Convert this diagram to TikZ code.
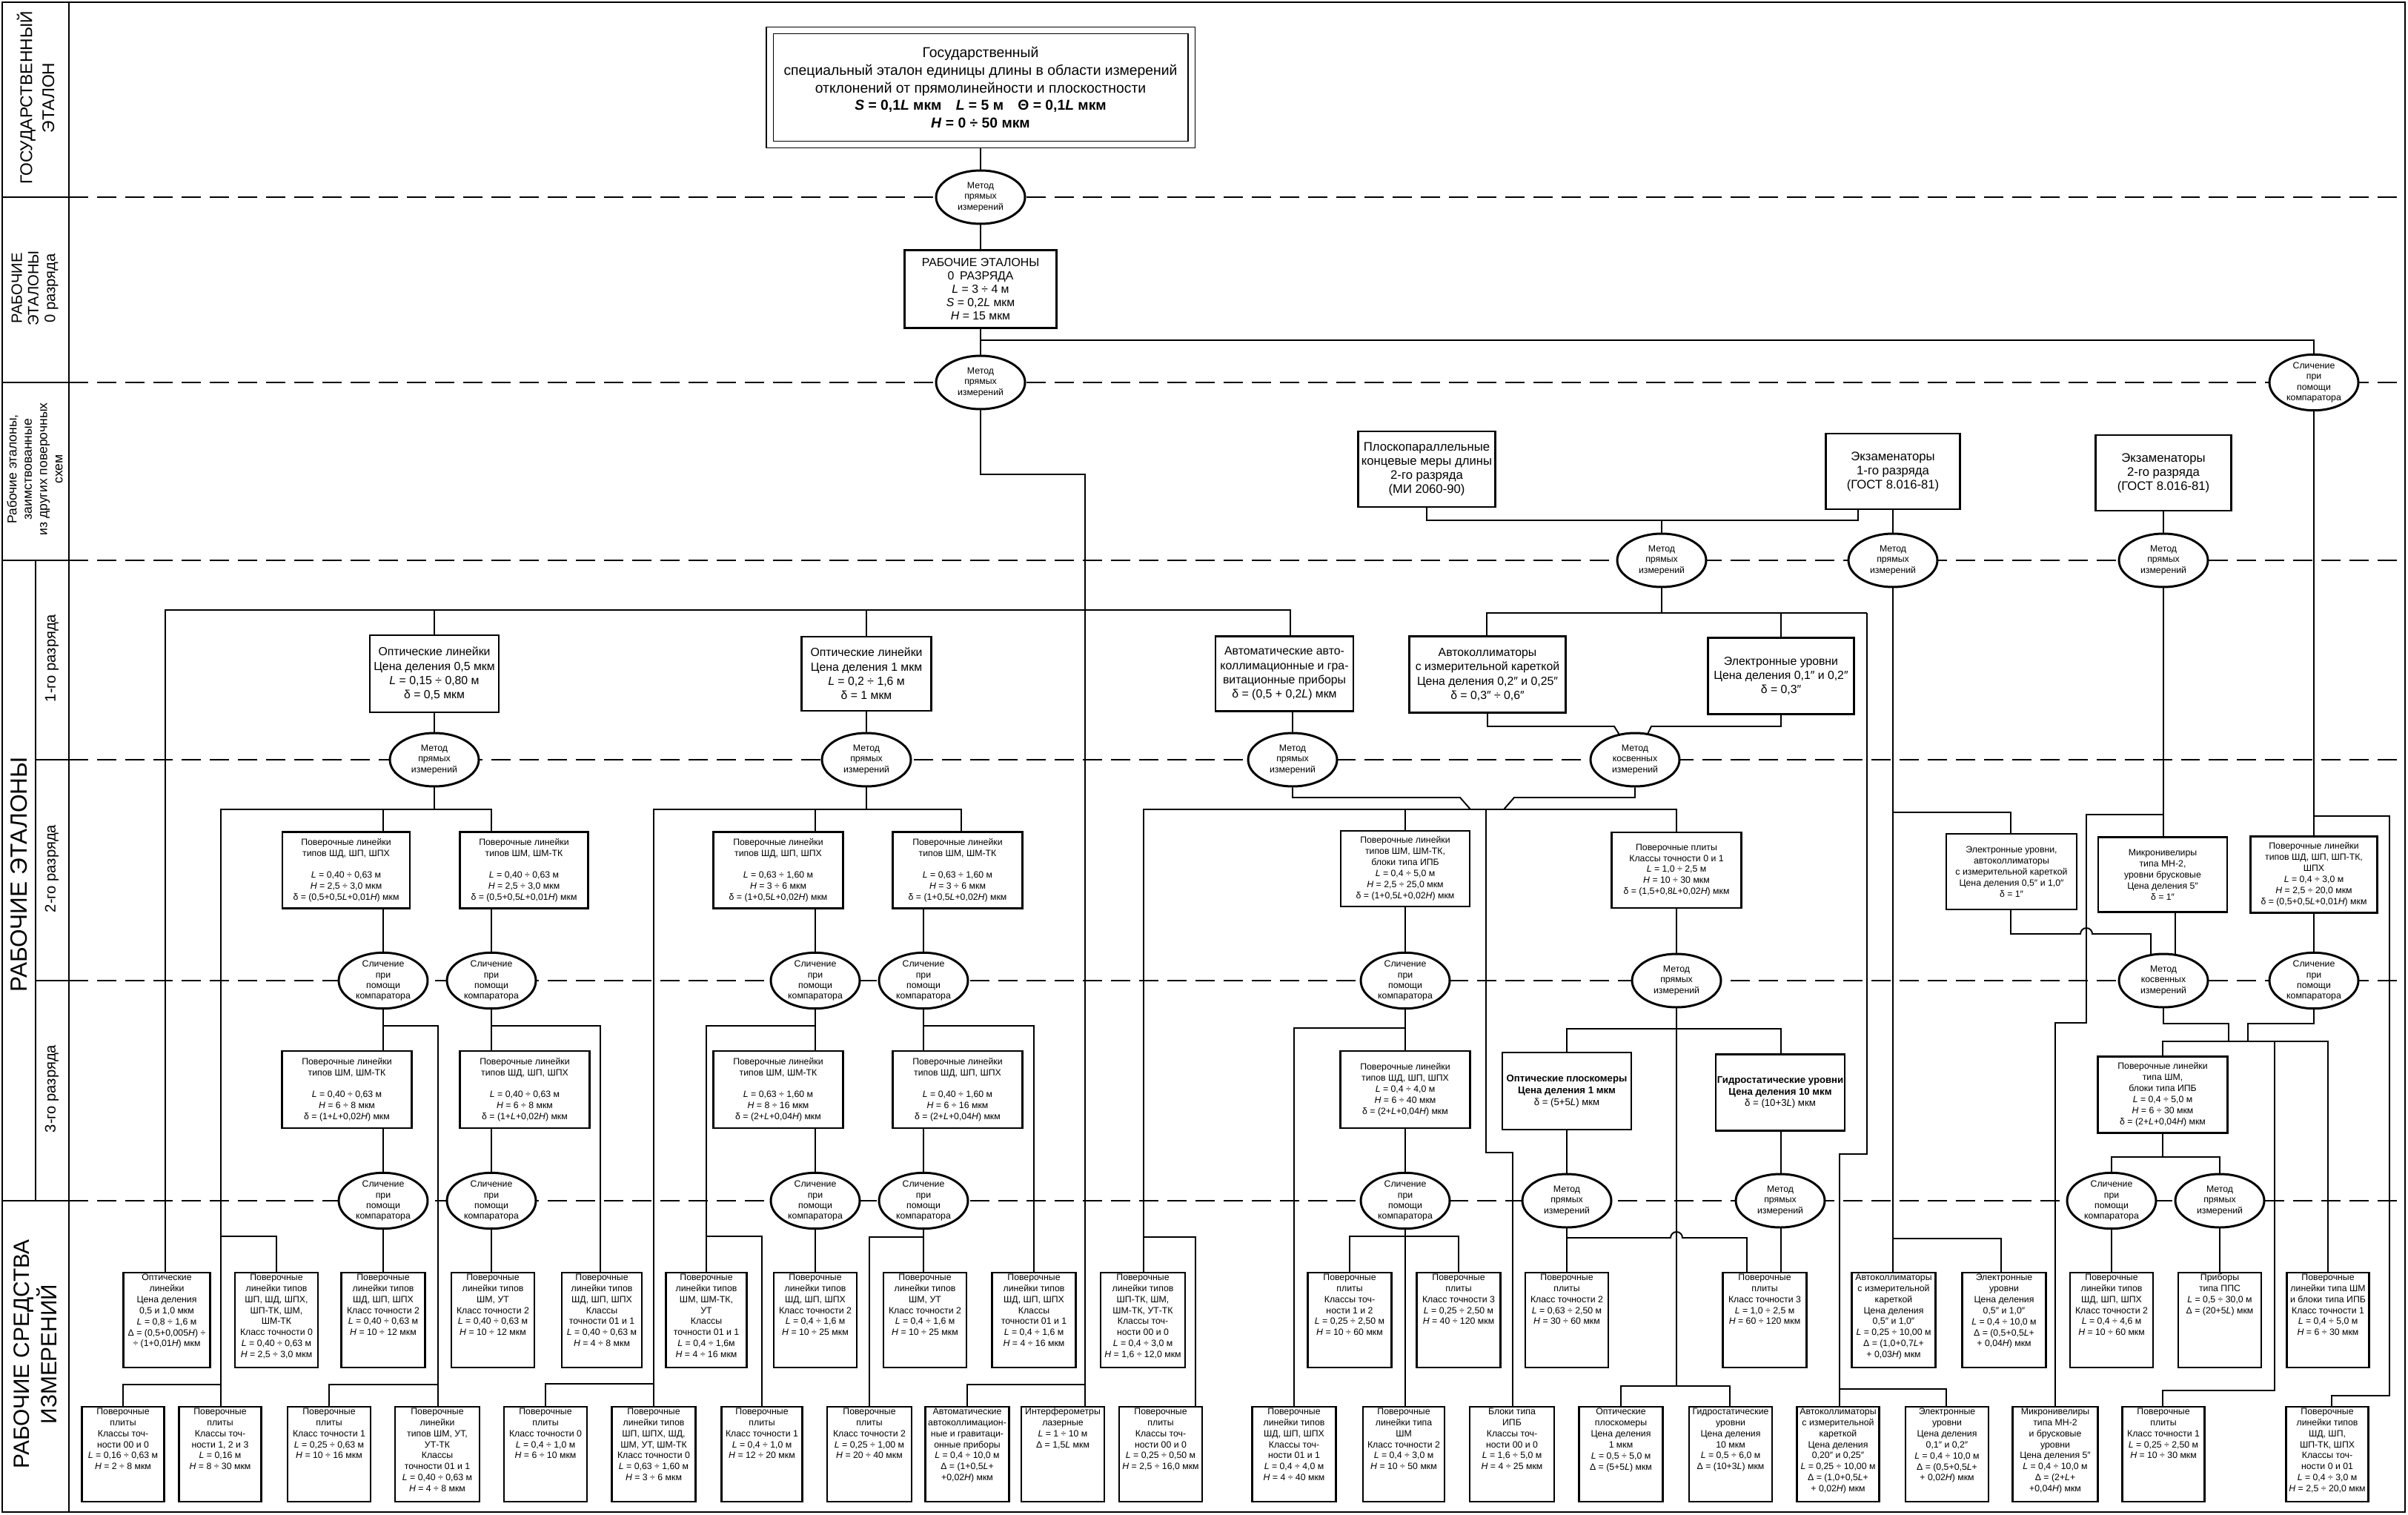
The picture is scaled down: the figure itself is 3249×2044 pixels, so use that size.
\documentclass[tikz,border=0pt]{standalone}
\usepackage{fontspec}
\setmainfont{Liberation Sans}
\usetikzlibrary{shapes.geometric,backgrounds}

\newlength\px
\setlength\px{0.02cm}
% box contents: width, height (in px of the scheme), text
\newcommand{\cbx}[3]{\parbox[c][#2\px][c]{#1\px}{\centering #3\par}}
\newcommand{\tbx}[3]{\parbox[c][#2\px][t]{#1\px}{\centering\vspace*{1pt}#3\par}}
\newcommand{\iL}{\textit{L}}
\newcommand{\iH}{\textit{H}}
\newcommand{\iS}{\textit{S}}
\newcommand{\metpr}{Метод\\прямых\\измерений}
\newcommand{\metkos}{Метод\\косвенных\\измерений}
\newcommand{\slich}{Сличение\\при\\помощи\\компаратора}

\begin{document}
\begin{tikzpicture}[x=0.02cm, y=-0.02cm,
  bx/.style={draw, line width=1.6pt, fill=white, inner sep=0pt},
  big/.style={bx, font=\fontsize{9}{11}\selectfont},
  sm/.style={bx, font=\fontsize{7}{8.5}\selectfont},
  el/.style={ellipse, draw, line width=1.7pt, fill=white, inner sep=0pt,
    minimum width=2.4cm, minimum height=1.44cm, align=center,
    font=\fontsize{7}{8}\selectfont},
  ln/.style={line width=1.1pt},
  sep/.style={line width=1.3pt, dash pattern=on 0.52cm off 0.24cm},
  lab/.style={rotate=90, align=center, inner sep=0pt}]
  \useasboundingbox (0,0) rectangle (3249,2044);

  % frame and left column
  \draw[line width=1.6pt] (3,3) rectangle (3245,2040);
  \draw[line width=1.6pt] (93,3) -- (93,2040);
  \draw[line width=1.6pt] (48,756) -- (48,1620);
  \foreach \yy in {266,516,756,1620} \draw[line width=1.6pt] (3,\yy) -- (93,\yy);
  \foreach \yy in {1025,1323} \draw[line width=1.6pt] (48,\yy) -- (93,\yy);

  \node[lab, font=\fontsize{13}{17}\selectfont] (lgos) at (48,132) {ГОСУДАРСТВЕННЫЙ\\ЭТАЛОН};
  \node[lab, font=\fontsize{11.5}{12.7}\selectfont] (lnul) at (47,389) {РАБОЧИЕ\\ЭТАЛОНЫ\\0 разряда};
  \node[lab, font=\fontsize{10}{11.8}\selectfont] (lzaim) at (47,633) {Рабочие эталоны,\\заимствованные\\из других поверочных\\схем};
  \node[lab, font=\fontsize{18}{20}\selectfont] (lre) at (26,1180) {РАБОЧИЕ ЭТАЛОНЫ};
  \node[lab, font=\fontsize{11.5}{13}\selectfont] (lr1) at (70,888) {1-го разряда};
  \node[lab, font=\fontsize{11.5}{13}\selectfont] (lr2) at (70,1172) {2-го разряда};
  \node[lab, font=\fontsize{11.5}{13}\selectfont] (lr3) at (70,1469) {3-го разряда};
  \node[lab, font=\fontsize{17}{21}\selectfont] (lrsi) at (48,1827) {РАБОЧИЕ СРЕДСТВА\\ИЗМЕРЕНИЙ};

  % state standard and rank 0
  \node[bx, double, double distance=0.16cm, line width=0.8pt, font=\fontsize{11}{13.5}\selectfont] (gos) at (1323,118)
    {\cbx{569}{154}{Государственный\\ специальный эталон единицы длины в области измерений\\ отклонений от прямолинейности и плоскостности\\ \textbf{\iS{} = 0,1\iL{} мкм\quad \iL{} = 5 м\quad Θ = 0,1\iL{} мкм}\\ \textbf{\iH{} = 0 ÷ 50 мкм}}};
  \node[el] (e1) at (1323,266) {\metpr};
  \node[bx, font=\fontsize{9}{10.3}\selectfont] (r0) at (1323,390) {\cbx{205}{105}{РАБОЧИЕ ЭТАЛОНЫ\\ 0\enspace РАЗРЯДА\\ \iL{} = 3 ÷ 4 м\\ \iS{} = 0,2\iL{} мкм\\ \iH{} = 15 мкм}};
  \node[el] (e2) at (1323,516) {\metpr};
  \node[el] (e3) at (3122,516) {\slich};

  % borrowed standards
  \node[bx, font=\fontsize{9.5}{10.8}\selectfont] (kmd) at (1925,633) {\cbx{185}{102}{Плоскопараллельные\\ концевые меры длины\\ 2-го разряда\\ (МИ 2060-90)}};
  \node[bx, font=\fontsize{9.5}{10.8}\selectfont] (ex1) at (2554,636) {\cbx{181}{102}{Экзаменаторы\\ 1-го разряда\\ (ГОСТ 8.016-81)}};
  \node[bx, font=\fontsize{9.5}{10.8}\selectfont] (ex2) at (2919,638) {\cbx{183}{102}{Экзаменаторы\\ 2-го разряда\\ (ГОСТ 8.016-81)}};
  \node[el] (e4) at (2242,756) {\metpr};
  \node[el] (e5) at (2554,756) {\metpr};
  \node[el] (e6) at (2919,756) {\metpr};

  % rank 1
  \node[big] (ol05) at (586,909) {\cbx{174}{104}{Оптические линейки\\ Цена деления 0,5 мкм\\ \iL{} = 0,15 ÷ 0,80 м\\ δ = 0,5 мкм}};
  \node[big] (ol1) at (1169,909) {\cbx{175}{100}{Оптические линейки\\ Цена деления 1 мкм\\ \iL{} = 0,2 ÷ 1,6 м\\ δ = 1 мкм}};
  \node[big] (aag) at (1733,909) {\cbx{186}{101}{Автоматические авто-\\ коллимационные и гра-\\ витационные приборы\\ δ = (0,5 + 0,2\iL) мкм}};
  \node[big] (ak1) at (2007,910) {\cbx{211}{103}{Автоколлиматоры\\ с измерительной кареткой\\ Цена деления 0,2″ и 0,25″\\ δ = 0,3″ ÷ 0,6″}};
  \node[big] (eu1) at (2403,912) {\cbx{197}{103}{Электронные уровни\\ Цена деления 0,1″ и 0,2″\\ δ = 0,3″}};
  \node[el] (ea1) at (586,1025) {\metpr};
  \node[el] (eb1) at (1169,1025) {\metpr};
  \node[el] (ec1) at (1744,1025) {\metpr};
  \node[el] (ec2) at (2206,1025) {\metkos};

  % rank 2
  \node[sm] (a2a) at (467,1174) {\cbx{172}{103}{Поверочные линейки\\ типов ШД, ШП, ШПХ\\[8pt] \iL{} = 0,40 ÷ 0,63 м\\ \iH{} = 2,5 ÷ 3,0 мкм\\ δ = (0,5+0,5\iL+0,01\iH) мкм}};
  \node[sm] (a2b) at (707,1174) {\cbx{173}{103}{Поверочные линейки\\ типов ШМ, ШМ-ТК\\[8pt] \iL{} = 0,40 ÷ 0,63 м\\ \iH{} = 2,5 ÷ 3,0 мкм\\ δ = (0,5+0,5\iL+0,01\iH) мкм}};
  \node[sm] (b2a) at (1050,1174) {\cbx{175}{103}{Поверочные линейки\\ типов ШД, ШП, ШПХ\\[8pt] \iL{} = 0,63 ÷ 1,60 м\\ \iH{} = 3 ÷ 6 мкм\\ δ = (1+0,5\iL+0,02\iH) мкм}};
  \node[sm] (b2b) at (1292,1174) {\cbx{175}{103}{Поверочные линейки\\ типов ШМ, ШМ-ТК\\[8pt] \iL{} = 0,63 ÷ 1,60 м\\ \iH{} = 3 ÷ 6 мкм\\ δ = (1+0,5\iL+0,02\iH) мкм}};
  \node[sm] (c2a) at (1896,1172) {\cbx{174}{102}{Поверочные линейки\\ типов ШМ, ШМ-ТК,\\ блоки типа ИПБ\\ \iL{} = 0,4 ÷ 5,0 м\\ \iH{} = 2,5 ÷ 25,0 мкм\\ δ = (1+0,5\iL+0,02\iH) мкм}};
  \node[sm] (c2b) at (2262,1174) {\cbx{175}{102}{Поверочные плиты\\ Классы точности 0 и 1\\ \iL{} = 1,0 ÷ 2,5 м\\ \iH{} = 10 ÷ 30 мкм\\ δ = (1,5+0,8\iL+0,02\iH) мкм}};
  \node[sm] (d2a) at (2714,1176) {\cbx{176}{102}{Электронные уровни,\\ автоколлиматоры\\ с измерительной кареткой\\ Цена деления 0,5″ и 1,0″\\ δ = 1″}};
  \node[sm] (d2b) at (2918,1180) {\cbx{174}{101}{Микронивелиры\\ типа МН-2,\\ уровни брусковые\\ Цена деления 5″\\ δ = 1″}};
  \node[sm] (d2c) at (3122,1180) {\cbx{171}{103}{Поверочные линейки\\ типов ШД, ШП, ШП-ТК,\\ ШПХ\\ \iL{} = 0,4 ÷ 3,0 м\\ \iH{} = 2,5 ÷ 20,0 мкм\\ δ = (0,5+0,5\iL+0,01\iH) мкм}};
  \node[el] (sa1) at (517,1323) {\slich};
  \node[el] (sa2) at (663,1323) {\slich};
  \node[el] (sb1) at (1100,1323) {\slich};
  \node[el] (sb2) at (1246,1323) {\slich};
  \node[el] (sc1) at (1896,1323) {\slich};
  \node[el] (ec4) at (2262,1323) {\metpr};
  \node[el] (ed1) at (2919,1323) {\metkos};
  \node[el] (sd2) at (3122,1323) {\slich};

  % rank 3
  \node[sm] (a3a) at (468,1470) {\cbx{175}{104}{Поверочные линейки\\ типов ШМ, ШМ-ТК\\[8pt] \iL{} = 0,40 ÷ 0,63 м\\ \iH{} = 6 ÷ 8 мкм\\ δ = (1+\iL+0,02\iH) мкм}};
  \node[sm] (a3b) at (708,1470) {\cbx{175}{104}{Поверочные линейки\\ типов ШД, ШП, ШПХ\\[8pt] \iL{} = 0,40 ÷ 0,63 м\\ \iH{} = 6 ÷ 8 мкм\\ δ = (1+\iL+0,02\iH) мкм}};
  \node[sm] (b3a) at (1050,1470) {\cbx{175}{104}{Поверочные линейки\\ типов ШМ, ШМ-ТК\\[8pt] \iL{} = 0,63 ÷ 1,60 м\\ \iH{} = 8 ÷ 16 мкм\\ δ = (2+\iL+0,04\iH) мкм}};
  \node[sm] (b3b) at (1292,1470) {\cbx{175}{104}{Поверочные линейки\\ типов ШД, ШП, ШПХ\\[8pt] \iL{} = 0,40 ÷ 1,60 м\\ \iH{} = 6 ÷ 16 мкм\\ δ = (2+\iL+0,04\iH) мкм}};
  \node[sm] (c3a) at (1896,1470) {\cbx{175}{104}{Поверочные линейки\\ типов ШД, ШП, ШПХ\\ \iL{} = 0,4 ÷ 4,0 м\\ \iH{} = 6 ÷ 40 мкм\\ δ = (2+\iL+0,04\iH) мкм}};
  \node[sm, font=\fontsize{7.5}{9}\selectfont] (c3b) at (2114,1472) {\cbx{174}{104}{\textbf{Оптические плоскомеры}\\ \textbf{Цена деления 1 мкм}\\ δ = (5+5\iL) мкм}};
  \node[sm, font=\fontsize{7.5}{9}\selectfont] (c3c) at (2402,1474) {\cbx{174}{103}{\textbf{Гидростатические уровни}\\ \textbf{Цена деления 10 мкм}\\ δ = (10+3\iL) мкм}};
  \node[sm] (d3) at (2918,1477) {\cbx{175}{103}{Поверочные линейки\\ типа ШМ,\\ блоки типа ИПБ\\ \iL{} = 0,4 ÷ 5,0 м\\ \iH{} = 6 ÷ 30 мкм\\ δ = (2+\iL+0,04\iH) мкм}};
  \node[el] (sa3) at (517,1620) {\slich};
  \node[el] (sa4) at (663,1620) {\slich};
  \node[el] (sb3) at (1100,1620) {\slich};
  \node[el] (sb4) at (1246,1620) {\slich};
  \node[el] (sc3) at (1896,1620) {\slich};
  \node[el] (ec5) at (2114,1620) {\metpr};
  \node[el] (ec6) at (2402,1620) {\metpr};
  \node[el] (sd3) at (2849,1620) {\slich};
  \node[el] (ed4) at (2995,1620) {\metpr};

  % working measuring instruments, upper row
  \node[sm] (u1) at (225,1781) {\tbx{117}{128}{Оптические\\ линейки\\ Цена деления\\ 0,5 и 1,0 мкм\\ \iL{} = 0,8 ÷ 1,6 м\\ Δ = (0,5+0,005\iH) ÷\\ ÷ (1+0,01\iH) мкм}};
  \node[sm] (u2) at (373,1781) {\tbx{112}{128}{Поверочные\\ линейки типов\\ ШП, ШД, ШПХ,\\ ШП-ТК, ШМ,\\ ШМ-ТК\\ Класс точности 0\\ \iL{} = 0,40 ÷ 0,63 м\\ \iH{} = 2,5 ÷ 3,0 мкм}};
  \node[sm] (u3) at (517,1781) {\tbx{113}{128}{Поверочные\\ линейки типов\\ ШД, ШП, ШПХ\\ Класс точности 2\\ \iL{} = 0,40 ÷ 0,63 м\\ \iH{} = 10 ÷ 12 мкм}};
  \node[sm] (u4) at (665,1781) {\tbx{112}{128}{Поверочные\\ линейки типов\\ ШМ, УТ\\ Класс точности 2\\ \iL{} = 0,40 ÷ 0,63 м\\ \iH{} = 10 ÷ 12 мкм}};
  \node[sm] (u5) at (812,1781) {\tbx{108}{128}{Поверочные\\ линейки типов\\ ШД, ШП, ШПХ\\ Классы\\ точности 01 и 1\\ \iL{} = 0,40 ÷ 0,63 м\\ \iH{} = 4 ÷ 8 мкм}};
  \node[sm] (u6) at (953,1781) {\tbx{109}{128}{Поверочные\\ линейки типов\\ ШМ, ШМ-ТК,\\ УТ\\ Классы\\ точности 01 и 1\\ \iL{} = 0,4 ÷ 1,6м\\ \iH{} = 4 ÷ 16 мкм}};
  \node[sm] (u7) at (1100,1781) {\tbx{112}{128}{Поверочные\\ линейки типов\\ ШД, ШП, ШПХ\\ Класс точности 2\\ \iL{} = 0,4 ÷ 1,6 м\\ \iH{} = 10 ÷ 25 мкм}};
  \node[sm] (u8) at (1248,1781) {\tbx{112}{128}{Поверочные\\ линейки типов\\ ШМ, УТ\\ Класс точности 2\\ \iL{} = 0,4 ÷ 1,6 м\\ \iH{} = 10 ÷ 25 мкм}};
  \node[sm] (u9) at (1395,1781) {\tbx{113}{128}{Поверочные\\ линейки типов\\ ШД, ШП, ШПХ\\ Классы\\ точности 01 и 1\\ \iL{} = 0,4 ÷ 1,6 м\\ \iH{} = 4 ÷ 16 мкм}};
  \node[sm] (u10) at (1542,1781) {\tbx{114}{128}{Поверочные\\ линейки типов\\ ШП-ТК, ШМ,\\ ШМ-ТК, УТ-ТК\\ Классы точ-\\ ности 00 и 0\\ \iL{} = 0,4 ÷ 3,0 м\\ \iH{} = 1,6 ÷ 12,0 мкм}};
  \node[sm] (u11) at (1821,1781) {\tbx{113}{128}{Поверочные\\ плиты\\ Классы точ-\\ ности 1 и 2\\ \iL{} = 0,25 ÷ 2,50 м\\ \iH{} = 10 ÷ 60 мкм}};
  \node[sm] (u12) at (1968,1781) {\tbx{113}{128}{Поверочные\\ плиты\\ Класс точности 3\\ \iL{} = 0,25 ÷ 2,50 м\\ \iH{} = 40 ÷ 120 мкм}};
  \node[sm] (u13) at (2114,1781) {\tbx{112}{128}{Поверочные\\ плиты\\ Класс точности 2\\ \iL{} = 0,63 ÷ 2,50 м\\ \iH{} = 30 ÷ 60 мкм}};
  \node[sm] (u14) at (2381,1781) {\tbx{113}{128}{Поверочные\\ плиты\\ Класс точности 3\\ \iL{} = 1,0 ÷ 2,5 м\\ \iH{} = 60 ÷ 120 мкм}};
  \node[sm] (u15) at (2555,1781) {\tbx{113}{128}{Автоколлиматоры\\ с измерительной\\ кареткой\\ Цена деления\\ 0,5″ и 1,0″\\ \iL{} = 0,25 ÷ 10,00 м\\ Δ = (1,0+0,7\iL+\\ + 0,03\iH) мкм}};
  \node[sm] (u16) at (2704,1781) {\tbx{113}{128}{Электронные\\ уровни\\ Цена деления\\ 0,5″ и 1,0″\\ \iL{} = 0,4 ÷ 10,0 м\\ Δ = (0,5+0,5\iL+\\ + 0,04\iH) мкм}};
  \node[sm] (u17) at (2849,1781) {\tbx{112}{128}{Поверочные\\ линейки типов\\ ШД, ШП, ШПХ\\ Класс точности 2\\ \iL{} = 0,4 ÷ 4,6 м\\ \iH{} = 10 ÷ 60 мкм}};
  \node[sm] (u18) at (2995,1781) {\tbx{112}{128}{Приборы\\ типа ППС\\ \iL{} = 0,5 ÷ 30,0 м\\ Δ = (20+5\iL) мкм}};
  \node[sm] (u19) at (3141,1781) {\tbx{111}{128}{Поверочные\\ линейки типа ШМ\\ и блоки типа ИПБ\\ Класс точности 1\\ \iL{} = 0,4 ÷ 5,0 м\\ \iH{} = 6 ÷ 30 мкм}};

  % working measuring instruments, lower row
  \node[sm] (w1) at (166,1962) {\tbx{111}{128}{Поверочные\\ плиты\\ Классы точ-\\ ности 00 и 0\\ \iL{} = 0,16 ÷ 0,63 м\\ \iH{} = 2 ÷ 8 мкм}};
  \node[sm] (w2) at (297,1962) {\tbx{111}{128}{Поверочные\\ плиты\\ Классы точ-\\ ности 1, 2 и 3\\ \iL{} = 0,16 м\\ \iH{} = 8 ÷ 30 мкм}};
  \node[sm] (w3) at (444,1962) {\tbx{112}{128}{Поверочные\\ плиты\\ Класс точности 1\\ \iL{} = 0,25 ÷ 0,63 м\\ \iH{} = 10 ÷ 16 мкм}};
  \node[sm] (w4) at (590,1962) {\tbx{114}{128}{Поверочные\\ линейки\\ типов ШМ, УТ,\\ УТ-ТК\\ Классы\\ точности 01 и 1\\ \iL{} = 0,40 ÷ 0,63 м\\ \iH{} = 4 ÷ 8 мкм}};
  \node[sm] (w5) at (736,1962) {\tbx{112}{128}{Поверочные\\ плиты\\ Класс точности 0\\ \iL{} = 0,4 ÷ 1,0 м\\ \iH{} = 6 ÷ 10 мкм}};
  \node[sm] (w6) at (882,1962) {\tbx{113}{128}{Поверочные\\ линейки типов\\ ШП, ШПХ, ШД,\\ ШМ, УТ, ШМ-ТК\\ Класс точности 0\\ \iL{} = 0,63 ÷ 1,60 м\\ \iH{} = 3 ÷ 6 мкм}};
  \node[sm] (w7) at (1028,1962) {\tbx{109}{128}{Поверочные\\ плиты\\ Класс точности 1\\ \iL{} = 0,4 ÷ 1,0 м\\ \iH{} = 12 ÷ 20 мкм}};
  \node[sm] (w8) at (1173,1962) {\tbx{114}{128}{Поверочные\\ плиты\\ Класс точности 2\\ \iL{} = 0,25 ÷ 1,00 м\\ \iH{} = 20 ÷ 40 мкм}};
  \node[sm] (w9) at (1305,1962) {\tbx{113}{128}{Автоматические\\ автоколлимацион-\\ ные и гравитаци-\\ онные приборы\\ \iL{} = 0,4 ÷ 10,0 м\\ Δ = (1+0,5\iL+\\ +0,02\iH) мкм}};
  \node[sm] (w10) at (1434,1962) {\tbx{112}{128}{Интерферометры\\ лазерные\\ \iL{} = 1 ÷ 10 м\\ Δ = 1,5\iL{} мкм}};
  \node[sm] (w11) at (1566,1962) {\tbx{112}{128}{Поверочные\\ плиты\\ Классы точ-\\ ности 00 и 0\\ \iL{} = 0,25 ÷ 0,50 м\\ \iH{} = 2,5 ÷ 16,0 мкм}};
  \node[sm] (w12) at (1746,1962) {\tbx{113}{128}{Поверочные\\ линейки типов\\ ШД, ШП, ШПХ\\ Классы точ-\\ ности 01 и 1\\ \iL{} = 0,4 ÷ 4,0 м\\ \iH{} = 4 ÷ 40 мкм}};
  \node[sm] (w13) at (1894,1962) {\tbx{110}{128}{Поверочные\\ линейки типа\\ ШМ\\ Класс точности 2\\ \iL{} = 0,4 ÷ 3,0 м\\ \iH{} = 10 ÷ 50 мкм}};
  \node[sm] (w14) at (2040,1962) {\tbx{114}{128}{Блоки типа\\ ИПБ\\ Классы точ-\\ ности 00 и 0\\ \iL{} = 1,6 ÷ 5,0 м\\ \iH{} = 4 ÷ 25 мкм}};
  \node[sm] (w15) at (2187,1962) {\tbx{113}{128}{Оптические\\ плоскомеры\\ Цена деления\\ 1 мкм\\ \iL{} = 0,5 ÷ 5,0 м\\ Δ = (5+5\iL) мкм}};
  \node[sm] (w16) at (2335,1962) {\tbx{112}{128}{Гидростатические\\ уровни\\ Цена деления\\ 10 мкм\\ \iL{} = 0,5 ÷ 6,0 м\\ Δ = (10+3\iL) мкм}};
  \node[sm] (w17) at (2480,1962) {\tbx{111}{128}{Автоколлиматоры\\ с измерительной\\ кареткой\\ Цена деления\\ 0,20″ и 0,25″\\ \iL{} = 0,25 ÷ 10,00 м\\ Δ = (1,0+0,5\iL+\\ + 0,02\iH) мкм}};
  \node[sm] (w18) at (2627,1962) {\tbx{112}{128}{Электронные\\ уровни\\ Цена деления\\ 0,1″ и 0,2″\\ \iL{} = 0,4 ÷ 10,0 м\\ Δ = (0,5+0,5\iL+\\ + 0,02\iH) мкм}};
  \node[sm] (w19) at (2773,1962) {\tbx{115}{128}{Микронивелиры\\ типа МН-2\\ и брусковые\\ уровни\\ Цена деления 5″\\ \iL{} = 0,4 ÷ 10,0 м\\ Δ = (2+\iL+\\ +0,04\iH) мкм}};
  \node[sm] (w20) at (2919,1962) {\tbx{111}{128}{Поверочные\\ плиты\\ Класс точности 1\\ \iL{} = 0,25 ÷ 2,50 м\\ \iH{} = 10 ÷ 30 мкм}};
  \node[sm] (w21) at (3140,1962) {\tbx{111}{128}{Поверочные\\ линейки типов\\ ШД, ШП,\\ ШП-ТК, ШПХ\\ Классы точ-\\ ности 0 и 01\\ \iL{} = 0,4 ÷ 3,0 м\\ \iH{} = 2,5 ÷ 20,0 мкм}};

  \begin{pgfonlayer}{background}
    \foreach \yy in {266,516,756,1025,1323,1620} \draw[sep] (93,\yy) -- (3245,\yy);

    % top
    \draw[ln] (gos) -- (e1) -- (r0) -- (e2);
    \coordinate (jr) at (1323,459);
    \draw[ln] (jr) -| (e3);
    \coordinate (jm) at (1464,640);
    \coordinate (k1) at (1464,1868);
    \draw[ln] (e2) |- (jm) -- (k1) -- (k1 |- w10);
    \draw[ln] (w9) |- (k1);
    \coordinate (t0) at (223,823);
    \coordinate (t1) at (1741,823);
    \draw[ln] (t0 |- u1) -- (t0) -- (t1) -- (t1 |- aag);
    \draw[ln] (ea1) -- (ea1 |- t0);
    \draw[ln] (eb1) -- (eb1 |- t0);
    \draw[ln] (ec1 |- aag) -- (ec1);

    % left group
    \coordinate (ja) at (298,1092);
    \coordinate (jb) at (663,1092);
    \draw[ln] (ea1) -- (ea1 |- ja);
    \draw[ln] (ja |- w2) -- (ja) -- (jb) -- (sa2) -- (sa2 |- u4);
    \draw[ln] (sa1 |- ja) -- (sa1) -- (sa1 |- u3);
    \coordinate (jc) at (591,1384);
    \coordinate (jd) at (591,1868);
    \draw[ln] (sa1 |- jc) -- (jc) -- (jc |- w4);
    \draw[ln] (w3) |- (jd);
    \coordinate (je) at (810,1384);
    \draw[ln] (sa2 |- je) -- (je) -- (je |- u5);
    \coordinate (jf) at (298,1868);
    \draw[ln] (w1) |- (jf);
    \coordinate (jg) at (298,1668);
    \draw[ln] (jg) -| (u2);

    % middle group
    \coordinate (ka) at (882,1092);
    \coordinate (kb) at (1297,1092);
    \draw[ln] (eb1) -- (eb1 |- ka);
    \draw[ln] (ka |- w6) -- (ka) -- (kb) -- (kb |- b2b);
    \draw[ln] (sb1 |- ka) -- (sb1) -- (sb1 |- u7);
    \draw[ln] (sb2 |- b2b) -- (sb2) -- (sb2 |- u8);
    \coordinate (kc) at (953,1384);
    \draw[ln] (sb1 |- kc) -- (kc) -- (kc |- u6);
    \coordinate (kd) at (953,1668);
    \draw[ln] (kd) -| (w7);
    \coordinate (ke) at (1395,1384);
    \draw[ln] (sb2 |- ke) -- (ke) -- (ke |- u9);
    \coordinate (kf) at (1246,1669);
    \draw[ln] (kf) -| (w8);
    \coordinate (kg) at (882,1867);
    \draw[ln] (w5) |- (kg);

    % automatic devices, autocollimators, levels
    \coordinate (m1) at (1970,1076);
    \coordinate (m2) at (1984,1092);
    \draw[ln] (ec1) |- (m1) -- (m2);
    \coordinate (m3) at (2043,1076);
    \coordinate (m4) at (2029,1092);
    \draw[ln] (ec2) |- (m3) -- (m4);
    \coordinate (m5) at (1543,1092);
    \coordinate (m6) at (2262,1092);
    \draw[ln] (m5 |- u10) -- (m5) -- (m6) -- (ec4);
    \coordinate (m7) at (1543,1669);
    \coordinate (m8) at (1613,1669);
    \draw[ln] (m7) -- (m8) -- (m8 |- w11);
    \draw[ln] (sc1 |- m5) -- (sc1) -- (sc1 |- w13);
    \coordinate (m9) at (2005,1092);
    \coordinate (m10) at (2041,1555);
    \draw[ln] (m9) |- (m10) -- (m10 |- w14);
    \coordinate (n1) at (2178,980);
    \coordinate (n2) at (2228,980);
    \draw[ln] (ak1) |- (n1) -- (ec2);
    \draw[ln] (eu1) |- (n2) -- (ec2);
    \coordinate (p1) at (1746,1387);
    \draw[ln] (sc1) |- (p1) -- (p1 |- w12);
    \coordinate (p2) at (1821,1668);
    \coordinate (p3) at (1968,1668);
    \draw[ln] (p2 |- u11) -- (p2) -- (p3) -- (p3 |- u12);
    \coordinate (q1) at (2114,1388);
    \coordinate (q2) at (2403,1388);
    \draw[ln] (q1 |- u13) -- (q1) -- (q2) -- (q2 |- u14);
    \coordinate (q4) at (2187,1870);
    \coordinate (q5) at (2334,1870);
    \draw[ln] (ec4) -- (ec4 |- q4);
    \draw[ln] (q4 |- w15) -- (q4) -- (q5) -- (q5 |- w16);
    \coordinate (q6) at (2114,1670);
    \coordinate (q8) at (2254,1670);
    \coordinate (q7) at (2357,1670);
    \draw[ln] (q6) -- (q8) arc[start angle=180, end angle=360, radius=8] -- (q7) -- (q7 |- u14);

    % borrowed standards and right group
    \coordinate (r1) at (1925,702);
    \coordinate (r2) at (2507,702);
    \draw[ln] (kmd) -- (kmd |- r1) -- (r2) -- (r2 |- ex1);
    \draw[ln] (e4) -- (e4 |- r1);
    \draw[ln] (ex1) -- (e5);
    \draw[ln] (ex2) -- (e6);
    \coordinate (s1) at (2006,827);
    \coordinate (s2) at (2519,827);
    \draw[ln] (e4) -- (e4 |- s1);
    \draw[ln] (s1 |- ak1) -- (s1) -- (s2);
    \draw[ln] (eu1 |- s1) -- (eu1);
    \coordinate (s3) at (2519,1557);
    \coordinate (s4) at (2482,1557);
    \coordinate (s5) at (2482,1874);
    \coordinate (s6) at (2626,1874);
    \draw[ln] (s2) -- (s3) -- (s4) -- (s5) -- (s6) -- (s6 |- w18);
    \draw[ln] (s5) -- (s5 |- w17);
    \draw[ln] (e5) -- (e5 |- u15);
    \coordinate (v1) at (2554,1096);
    \coordinate (v2) at (2713,1096);
    \coordinate (v8) at (2713,1260);
    \coordinate (v9) at (2807,1260);
    \coordinate (v10) at (2902,1260);
    \draw[ln] (v1) -- (v2) -- (v8) -- (v9) arc[start angle=180, end angle=360, radius=8] -- (v10) -- (v10 |- ed1);
    \coordinate (v3) at (2554,1671);
    \coordinate (v4) at (2700,1671);
    \draw[ln] (v3) -- (v4) -- (v4 |- u16);
    \coordinate (v5) at (2815,1099);
    \coordinate (v6) at (2815,1380);
    \coordinate (v7) at (2773,1380);
    \draw[ln] (e6 |- v5) -- (v5) -- (v6) -- (v7) -- (v7 |- w19);
    \draw[ln] (e6) -- (e6 |- d2b);
    \coordinate (v11) at (2935,1180);
    \draw[ln] (v11) -- (v11 |- ed1);
    \draw[ln] (e3) -- (sd2);
    \coordinate (x1) at (3122,1101);
    \coordinate (x2) at (3224,1101);
    \coordinate (x3) at (3224,1883);
    \coordinate (x4) at (3146,1883);
    \draw[ln] (x1) -- (x2) -- (x3) -- (x4) -- (x4 |- w21);
    \coordinate (y1) at (3007,1381);
    \coordinate (y2) at (3007,1405);
    \coordinate (y3) at (3033,1381);
    \coordinate (y4) at (3033,1405);
    \draw[ln] (ed1) |- (y1) -- (y2);
    \draw[ln] (sd2) |- (y3) -- (y4);
    \coordinate (y5) at (2918,1405);
    \coordinate (y6) at (3141,1405);
    \draw[ln] (y5 |- d3) -- (y5) -- (y6) -- (y6 |- u19);
    \coordinate (y7) at (3069,1405);
    \coordinate (y8) at (3069,1876);
    \coordinate (y9) at (2918,1876);
    \draw[ln] (y7) -- (y8) -- (y9) -- (y9 |- w20);
    \coordinate (z1) at (2849,1561);
    \coordinate (z2) at (2995,1561);
    \draw[ln] (d3) -- (d3 |- z1);
    \draw[ln] (z1 |- u17) -- (z1) -- (z2) -- (z2 |- u18);
  \end{pgfonlayer}
\end{tikzpicture}
\end{document}
